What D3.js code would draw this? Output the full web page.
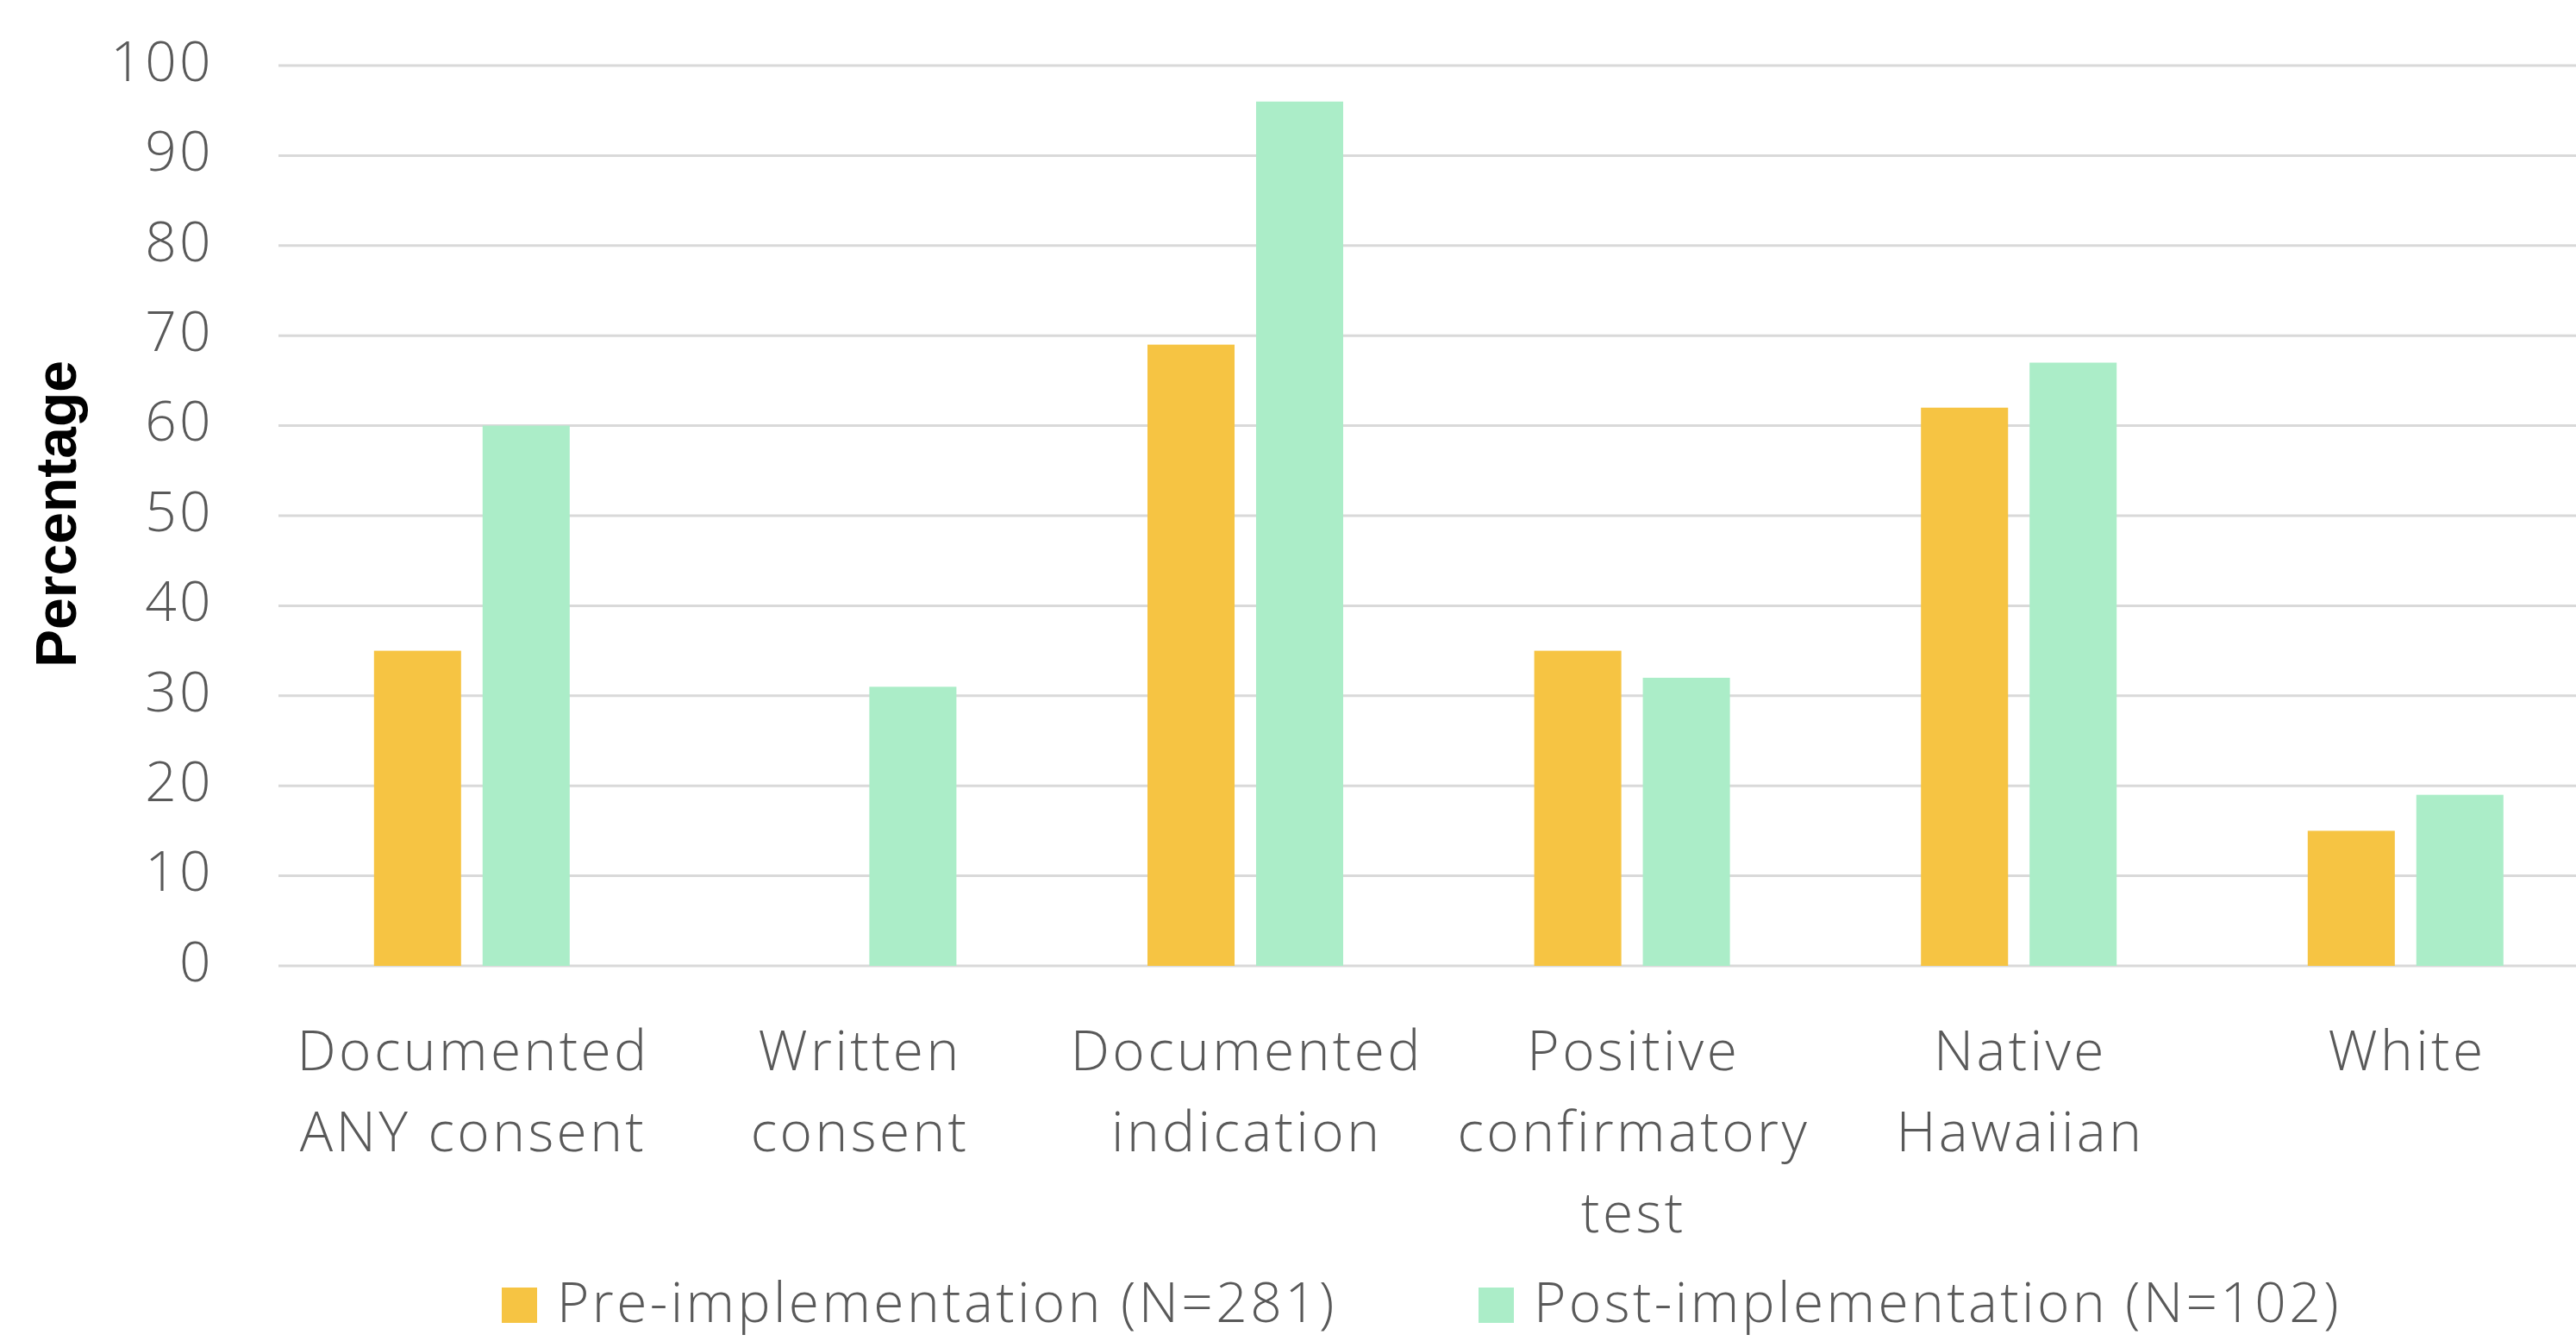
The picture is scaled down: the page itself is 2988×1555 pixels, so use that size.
<!DOCTYPE html>
<html>
<head>
<meta charset="utf-8">
<script src="https://cdn.jsdelivr.net/npm/d3@7"></script>
<style>
  html, body { margin: 0; padding: 0; background: #ffffff; }
  svg { display: block; }
</style>
</head>
<body>
<svg id="chart" width="2988" height="1555"></svg>
<script>
// ---- data ----
const categories = [
  ["Documented", "ANY consent"],
  ["Written", "consent"],
  ["Documented", "indication"],
  ["Positive", "confirmatory", "test"],
  ["Native", "Hawaiian"],
  ["White"]
];
const seriesNames = ["Pre-implementation (N=281)", "Post-implementation (N=102)"];
const preValues = [35, 0, 69, 35, 62, 15];
const postValues = [60, 31, 96, 32, 67, 19];
const yTicks = [0, 10, 20, 30, 40, 50, 60, 70, 80, 90, 100];
const yTitle = "Percentage";

// ---- layout ----
const W = 2988, H = 1555;
const plotLeft = 323, step = 448.6;
const plotRight = plotLeft + step * categories.length;
const yBottom = 1120, yTop = 76;
const colors = ["#F6C443", "#ABEDC8"];
const fontFamily = "'Open Sans', 'Noto Sans', sans-serif";
const ls = 3.4;

const svg = d3.select("#chart");

const x0 = d3.scaleBand()
  .domain(d3.range(categories.length))
  .range([plotLeft, plotRight])
  .paddingInner(0.494)
  .paddingOuter(0.247);

const x1 = d3.scaleBand()
  .domain([0, 1])
  .range([0, x0.bandwidth()])
  .paddingInner(0.198)
  .paddingOuter(0);

const y = d3.scaleLinear().domain([0, 100]).range([yBottom, yTop]);

// gridlines
svg.append("g")
  .selectAll("line")
  .data(yTicks)
  .join("line")
  .attr("x1", plotLeft)
  .attr("x2", W)
  .attr("y1", d => y(d))
  .attr("y2", d => y(d))
  .attr("stroke", "#D9D9D9")
  .attr("stroke-width", 3);

// y axis labels via d3 axis
const yAxis = d3.axisLeft(y).tickValues(yTicks).tickSize(0).tickPadding(0).tickFormat(d3.format("d"));
const yG = svg.append("g")
  .attr("transform", `translate(248,0)`)
  .call(yAxis);
yG.select(".domain").remove();
yG.selectAll("text")
  .attr("font-family", fontFamily)
  .attr("font-weight", 300)
  .attr("font-size", 64)
  .attr("letter-spacing", ls)
  .attr("fill", "#595959")
  .attr("dy", "0.27em");

// bars
const seriesValues = [preValues, postValues];
const groups = svg.append("g")
  .selectAll("g")
  .data(categories.map((c, i) => i))
  .join("g")
  .attr("transform", i => `translate(${x0(i)},0)`);

groups.selectAll("rect")
  .data(i => seriesValues.map((vals, s) => ({ s, v: vals[i] })).filter(d => d.v > 0))
  .join("rect")
  .attr("x", d => x1(d.s))
  .attr("width", x1.bandwidth())
  .attr("y", d => y(d.v))
  .attr("height", d => y(0) - y(d.v))
  .attr("fill", d => colors[d.s]);

// category labels
const catG = svg.append("g");
categories.forEach((lines, i) => {
  const cx = x0(i) + x0.bandwidth() / 2;
  const t = catG.append("text")
    .attr("text-anchor", "middle")
    .attr("font-family", fontFamily)
    .attr("font-weight", 300)
    .attr("font-size", 64)
    .attr("letter-spacing", ls)
    .attr("fill", "#595959");
  lines.forEach((ln, k) => {
    t.append("tspan")
      .attr("x", cx + ls / 2)
      .attr("y", 1241 + k * 94)
      .text(ln);
  });
});

// y title
svg.append("text")
  .attr("transform", `translate(88,596) rotate(-90)`)
  .attr("text-anchor", "middle")
  .attr("font-family", "'Liberation Sans', Arial, sans-serif")
  .attr("font-weight", "bold")
  .attr("font-size", 66)
  .attr("fill", "#000000")
  .text(yTitle);

// legend
const legendX = [582, 1715];
const legend = svg.append("g");
seriesNames.forEach((name, s) => {
  legend.append("rect")
    .attr("x", legendX[s])
    .attr("y", 1493)
    .attr("width", 41)
    .attr("height", 41)
    .attr("fill", colors[s]);
  legend.append("text")
    .attr("x", legendX[s] + 64)
    .attr("y", 1533)
    .attr("font-family", fontFamily)
    .attr("font-weight", 300)
    .attr("font-size", 64)
    .attr("letter-spacing", ls)
    .attr("fill", "#595959")
    .text(name);
});
</script>
</body>
</html>
